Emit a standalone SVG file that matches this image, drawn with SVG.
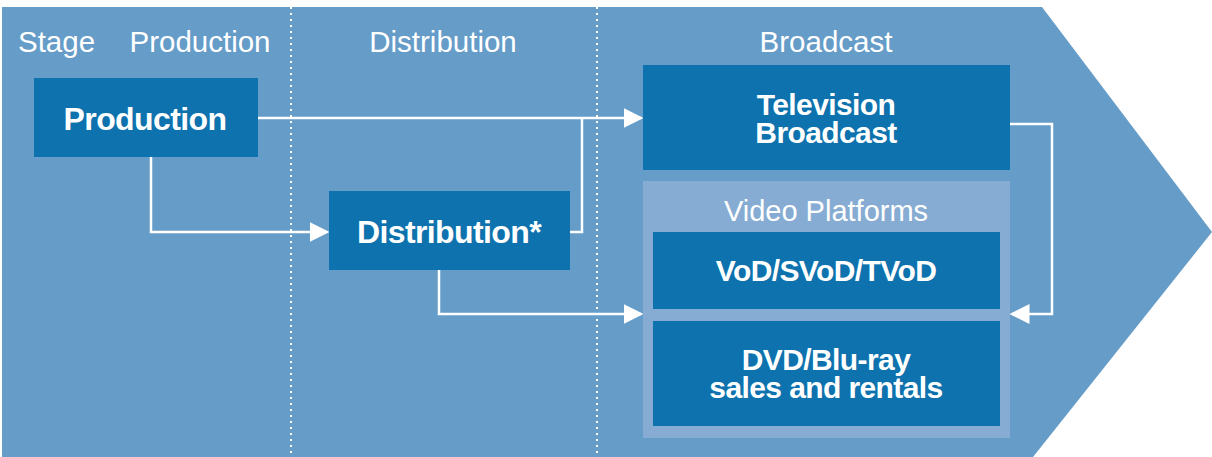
<svg xmlns="http://www.w3.org/2000/svg" width="1212" height="457" viewBox="0 0 1212 457">
<style>
.hdr{font-family:"Liberation Sans",Arial,sans-serif;font-size:29.5px;fill:#ffffff;}
.bold{font-family:"Liberation Sans",Arial,sans-serif;font-size:32px;font-weight:bold;fill:#ffffff;letter-spacing:-0.6px;text-anchor:middle;}
.node{fill:#0d72ad;}
.conn{fill:none;stroke:#ffffff;stroke-width:2.5;}
.div{stroke:#ffffff;stroke-width:2;stroke-dasharray:2 4;}
</style>
<defs>
<marker id="ah" markerWidth="8" markerHeight="8" refX="7" refY="4" orient="auto" markerUnits="strokeWidth">
<path d="M0,0 L8,4 L0,8 Z" fill="#ffffff"/>
</marker>
</defs>
<polygon points="2,7 1042,7 1212,232 1033,457 2,457" fill="#659cc8"/>
<line class="div" x1="291" y1="7" x2="291" y2="457"/>
<line class="div" x1="597" y1="7" x2="597" y2="457"/>
<text class="hdr" x="18" y="52">Stage</text>
<text class="hdr" x="200" y="52" text-anchor="middle">Production</text>
<text class="hdr" x="443" y="52" text-anchor="middle">Distribution</text>
<text class="hdr" x="826" y="52" text-anchor="middle">Broadcast</text>
<g id="connectors">
<path class="conn" d="M258,118 H641" marker-end="url(#ah)"/>
<path class="conn" d="M570,232 H582 V118"/>
<path class="conn" d="M151,157 V232 H327" marker-end="url(#ah)"/>
<path class="conn" d="M439,270 V314 H641" marker-end="url(#ah)"/>
<path class="conn" d="M1010,124 H1052 V314 H1012" marker-end="url(#ah)"/>
</g>
<g id="production">
<rect class="node" x="34" y="78" width="224" height="79"/>
<text class="bold" x="145" y="130">Production</text>
</g>
<g id="distribution">
<rect class="node" x="329" y="191" width="241" height="79"/>
<text class="bold" x="449" y="243">Distribution*</text>
</g>
<g id="television">
<rect class="node" x="643" y="65" width="367" height="105"/>
<text class="bold" x="826" y="115" style="font-size:30px">Television</text>
<text class="bold" x="826" y="143" style="font-size:30px">Broadcast</text>
</g>
<g id="video-platforms">
<rect x="643" y="181" width="367" height="257" fill="#86acd3"/>
<text class="hdr" x="826" y="221" text-anchor="middle" style="font-size:29px">Video Platforms</text>
</g>
<g id="vod">
<rect class="node" x="653" y="232" width="347" height="77"/>
<text class="bold" x="826" y="281" style="font-size:30px">VoD/SVoD/TVoD</text>
</g>
<g id="dvd">
<rect class="node" x="653" y="321" width="347" height="105"/>
<text class="bold" x="826" y="370" style="font-size:30px">DVD/Blu-ray</text>
<text class="bold" x="826" y="398" style="font-size:30px">sales and rentals</text>
</g>
</svg>
